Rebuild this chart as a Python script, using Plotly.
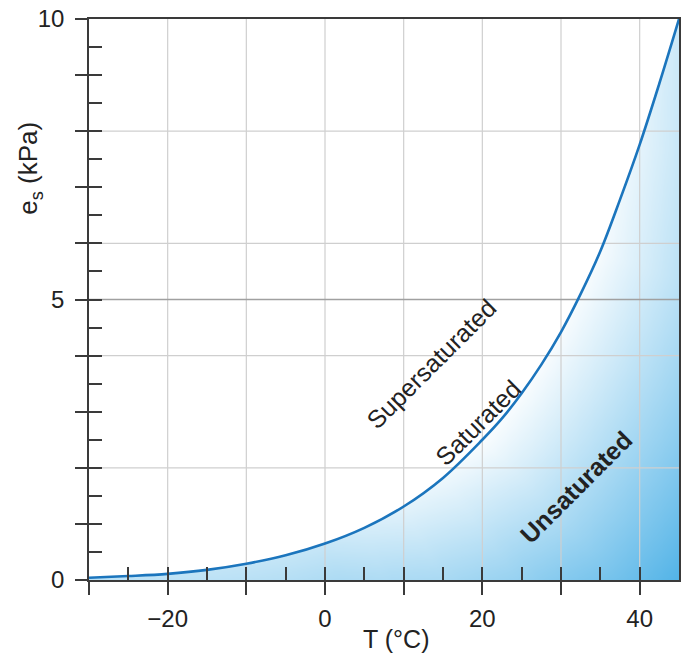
import numpy as np
import plotly.graph_objects as go

# ---------------- data ----------------
T_C = [-30, -25, -20, -15, -10, -5, 0, 5, 10, 15, 20, 22.5, 25, 27.5, 30, 32.5, 35,
       37.5, 40, 42.5, 45]
ES_KPA = [0.04, 0.07, 0.11, 0.18, 0.29, 0.44, 0.65, 0.93, 1.31, 1.82, 2.5, 2.88, 3.33,
          3.84, 4.42, 5.1, 5.86, 6.78, 7.76, 8.85, 10.0]

X_TICKS_MAJOR = [-30, -20, -10, 0, 10, 20, 30, 40]
X_TICK_TEXT = [' ', '\u221220', ' ', '0', ' ', '20', ' ', '40']
X_TICKS_MINOR = list(range(-30, 46, 5))
Y_TICKS_MAJOR = list(range(0, 11))
Y_TICK_TEXT = ['0', ' ', ' ', ' ', ' ', '5', ' ', ' ', ' ', ' ', '10']
Y_TICKS_MINOR = [i * 0.5 for i in range(21)]
GRID_X = [-20, -10, 0, 10, 20, 30, 40]
GRID_Y_LIGHT = [2, 4, 6, 8]
GRID_Y_DARK = [5]

LABEL_TEXT = ['Supersaturated', 'Saturated', '<b>Unsaturated</b>']
LABEL_T = [13.5, 19.4, 31.9]
LABEL_E = [3.85, 2.8, 1.66]

X_RANGE = [-30, 45]
Y_RANGE = [0, 10]

# ---------------- styling ----------------
FONT = 'Liberation Sans, Arial, Helvetica, sans-serif'
TXT = '#222222'
AXC = '#3a3a3a'
CURVE = '#1b75bd'
GRID = '#cfcfcf'
GRID_DARK = '#a0a0a0'
W, H = 686, 654
ML, MR, MT, MB = 89, 5, 15, 74
PX_PER_C = (W - ML - MR) / (X_RANGE[1] - X_RANGE[0])
PX_PER_KPA = (H - MT - MB) / (Y_RANGE[1] - Y_RANGE[0])

# background gradient (style only): blue increases with on-screen distance from the curve
tg = np.linspace(X_RANGE[0], X_RANGE[1], 161)
eg = np.linspace(Y_RANGE[0], Y_RANGE[1], 131)
TT, EE = np.meshgrid(tg, eg)
dT = np.linspace(X_RANGE[0], X_RANGE[1], 500)
dE = np.interp(dT, T_C, ES_KPA)
dmin = np.full(TT.shape, np.inf)
tnear = np.zeros(TT.shape)
for t, e in zip(dT, dE):
    d = np.hypot((TT - t) * PX_PER_C, (EE - e) * PX_PER_KPA)
    m = d < dmin
    dmin = np.where(m, d, dmin)
    tnear = np.where(m, t, tnear)
base = np.interp(tnear, [-30, 0, 10, 20, 35, 40, 45], [0.35, 0.3, 0.15, 0.03, 0.05, 0.14, 0.27])
shade = np.clip(dmin / 270.0 + base, 0, 1)

fig = go.Figure()
fig.add_trace(go.Heatmap(x=tg, y=eg, z=shade, zmin=0, zmax=1, zsmooth='best',
                         colorscale=[[0, '#ffffff'], [1, '#44ade5']],
                         showscale=False, hoverinfo='skip'))
# white region above the curve
fig.add_trace(go.Scatter(x=X_RANGE, y=[Y_RANGE[1], Y_RANGE[1]], mode='lines',
                         line=dict(width=0), hoverinfo='skip', showlegend=False))
fig.add_trace(go.Scatter(x=T_C, y=ES_KPA, mode='lines', fill='tonexty', fillcolor='#ffffff',
                         line=dict(width=0, shape='spline'), hoverinfo='skip', showlegend=False))


def vlines(vals):
    xs, ys = [], []
    for v in vals:
        xs += [v, v, None]
        ys += [Y_RANGE[0], Y_RANGE[1], None]
    return xs, ys


def hlines(vals):
    xs, ys = [], []
    for v in vals:
        xs += [X_RANGE[0], X_RANGE[1], None]
        ys += [v, v, None]
    return xs, ys


gx, gy = vlines(GRID_X)
fig.add_trace(go.Scatter(x=gx, y=gy, mode='lines', line=dict(color=GRID, width=1.2),
                         hoverinfo='skip', showlegend=False))
gx, gy = hlines(GRID_Y_LIGHT)
fig.add_trace(go.Scatter(x=gx, y=gy, mode='lines', line=dict(color=GRID, width=1.2),
                         hoverinfo='skip', showlegend=False))
gx, gy = hlines(GRID_Y_DARK)
fig.add_trace(go.Scatter(x=gx, y=gy, mode='lines', line=dict(color=GRID_DARK, width=1.4),
                         hoverinfo='skip', showlegend=False))

# saturation curve
fig.add_trace(go.Scatter(x=T_C, y=ES_KPA, mode='lines',
                         line=dict(color=CURVE, width=2.6, shape='spline'),
                         hoverinfo='skip', showlegend=False))

# invisible trace to activate the overlay axes (inside ticks)
fig.add_trace(go.Scatter(x=[X_RANGE[0]], y=[Y_RANGE[0]], xaxis='x2', yaxis='y2', mode='markers',
                         marker=dict(opacity=0), hoverinfo='skip', showlegend=False))

for txt, t, e in zip(LABEL_TEXT, LABEL_T, LABEL_E):
    fig.add_annotation(x=t, y=e, text=txt, showarrow=False, textangle=-45,
                       font=dict(family=FONT, size=25, color=TXT))

fig.add_annotation(xref='paper', yref='paper', x=-0.10, y=0.733, text='e<sub>s</sub> (kPa)',
                   textangle=-90, showarrow=False, xanchor='center', yanchor='middle',
                   font=dict(family=FONT, size=26, color=TXT))
fig.add_annotation(xref='paper', yref='paper', x=0.52, y=-0.106, text='T (\u00b0C)',
                   showarrow=False, xanchor='center', yanchor='middle',
                   font=dict(family=FONT, size=25, color=TXT))

fig.update_layout(
    width=W, height=H,
    margin=dict(l=ML, r=MR, t=MT, b=MB),
    paper_bgcolor='white', plot_bgcolor='white',
    showlegend=False,
    xaxis=dict(range=X_RANGE, showgrid=False, zeroline=False, showline=True, mirror=True,
               linecolor=AXC, linewidth=1.6, ticks='outside', ticklen=13, tickwidth=1.5,
               tickcolor=AXC, tickvals=X_TICKS_MAJOR, ticktext=X_TICK_TEXT,
               ticklabelstandoff=3,
               tickfont=dict(family=FONT, size=24, color=TXT)),
    yaxis=dict(range=Y_RANGE, showgrid=False, zeroline=False, showline=True, mirror=True,
               linecolor=AXC, linewidth=1.6, ticks='outside', ticklen=12, tickwidth=1.5,
               tickcolor=AXC, tickvals=Y_TICKS_MAJOR, ticktext=Y_TICK_TEXT,
               ticklabelstandoff=6,
               tickfont=dict(family=FONT, size=24, color=TXT)),
    xaxis2=dict(range=X_RANGE, overlaying='x', anchor='y', side='bottom', showgrid=False,
                zeroline=False, showline=False, ticks='inside', ticklen=13, tickwidth=1.5,
                tickcolor=AXC, tickvals=X_TICKS_MINOR, showticklabels=False),
    yaxis2=dict(range=Y_RANGE, overlaying='y', anchor='x', side='left', showgrid=False,
                zeroline=False, showline=False, ticks='inside', ticklen=13, tickwidth=1.5,
                tickcolor=AXC, tickvals=Y_TICKS_MINOR, showticklabels=False),
)

fig.write_html('out.html', config={'displayModeBar': False},
               post_script="document.body.style.margin='0';document.body.style.overflow='hidden';")
